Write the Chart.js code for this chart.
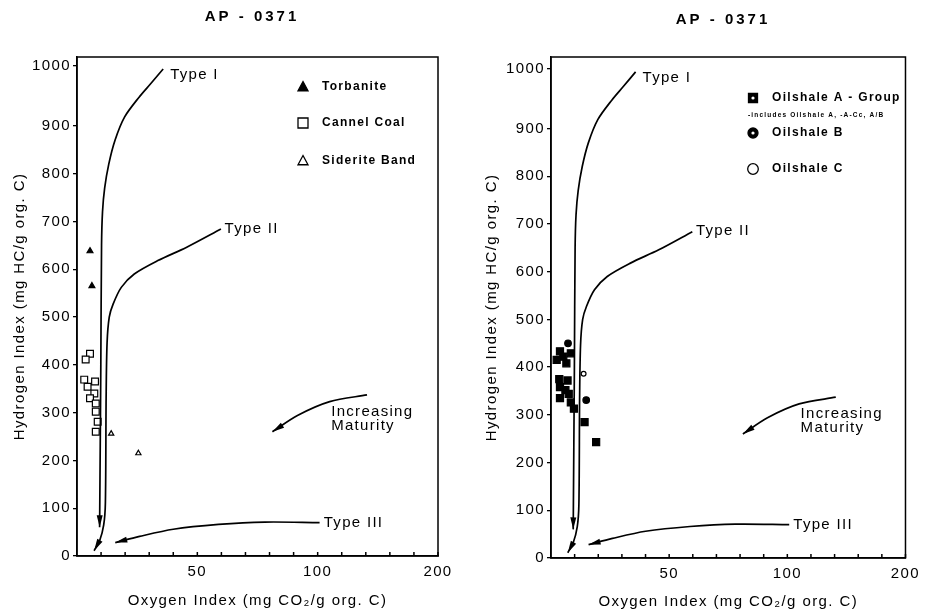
<!DOCTYPE html>
<html>
<head>
<meta charset="utf-8">
<title>AP - 0371</title>
<script src="https://cdn.jsdelivr.net/npm/chart.js@4.4.1/dist/chart.umd.min.js"></script>
<style>
  html, body { margin: 0; padding: 0; background: #fff; }
  .wrap { display: flex; width: 925px; height: 614px; }
  .panel { position: relative; height: 614px; }
  #left { width: 462px; }
  #right { width: 463px; }
</style>
</head>
<body>
<div class="wrap">
  <div class="panel" id="left"><canvas id="chartLeft"></canvas></div>
  <div class="panel" id="right"><canvas id="chartRight"></canvas></div>
</div>
<script>
const title = 'AP - 0371';
const xTickLabels = [50, 100, 200];
const xMinorTicks = [10, 20, 30, 40, 50, 60, 70, 80, 90, 100, 120, 140, 160, 180, 200];
const yTickLabels = [0, 100, 200, 300, 400, 500, 600, 700, 800, 900, 1000];

// left panel  [oxygen index, hydrogen index]
const torbanite = [[5.4, 638], [6.2, 565]];
const cannelCoal = [[5.4, 423], [3.6, 411], [3.0, 369], [7.5, 365], [4.4, 354], [7.2, 340],
  [5.4, 330], [7.8, 319], [7.8, 302], [8.6, 281], [7.8, 260]];
const sideriteBand = [[14.2, 256], [25.5, 215]];

// right panel
const oilshaleA = [[3.8, 433], [8.4, 429], [2.4, 415], [5.2, 422], [6.5, 408], [3.5, 375],
  [7.0, 372], [3.8, 358], [6.1, 352], [7.5, 344], [3.8, 335], [8.4, 326], [9.7, 313],
  [14.2, 285], [19.1, 243]];
const oilshaleB = [[7.2, 450], [14.9, 331]];
const oilshaleC = [[13.8, 386]];

// kerogen evolution paths, same on both diagrams
const typeI = [[35.8, 995], [30.5, 970], [25.8, 948], [19.8, 915], [15.8, 870], [13.2, 820],
  [11.5, 770], [10.6, 720], [10.2, 650], [9.9, 400], [9.4, 60]];
const typeII = [[59.8, 684], [45.6, 646], [33.6, 618], [23.8, 590], [18.4, 562], [15, 527],
  [13.4, 500], [12.5, 446], [12.1, 330], [11.8, 112], [11.1, 65], [9.4, 32], [7.1, 11]];
const typeIII = [[101.6, 70], [78, 71], [58.8, 66], [40, 56], [26, 41], [15.9, 28]];
const maturity = [[141, 337], [110, 323], [91.6, 294], [81.2, 260]];
const curveLabels = [['Type I', 38.3, 985], ['Type II', 60.9, 685], ['Type III', 104.2, 70],
  ['Increasing', 110.4, 302], ['Maturity', 110.4, 273]];

// axis breaks: x is squeezed above 100, y stretched above 900
const xPos = v => v <= 100 ? v : 100 + (v - 100) / 2;
const xVal = p => p <= 100 ? p : 100 + (p - 100) * 2;
const yPos = v => v <= 900 ? v : 900 + (v - 900) * 1.25;
const toPts = arr => arr.map(([x, y]) => ({ x: xPos(x), y: yPos(y) }));

Chart.defaults.font.family = "'Liberation Sans', Arial, sans-serif";
Chart.defaults.color = '#000';

const INK = '#000';

function marker(ctx, style, x, y, r, filled, hole) {
  ctx.beginPath();
  if (style === 'rect') ctx.rect(x - r, y - r, 2 * r, 2 * r);
  else if (style === 'circle') ctx.arc(x, y, r, 0, Math.PI * 2);
  else {
    ctx.moveTo(x, y - r * 1.1);
    ctx.lineTo(x + r, y + r * 0.75);
    ctx.lineTo(x - r, y + r * 0.75);
    ctx.closePath();
  }
  ctx.fillStyle = filled ? INK : '#fff';
  ctx.fill();
  ctx.lineWidth = 1.3;
  ctx.strokeStyle = INK;
  ctx.stroke();
  if (hole) {
    ctx.beginPath();
    ctx.arc(x, y, hole, 0, Math.PI * 2);
    ctx.fillStyle = '#fff';
    ctx.fill();
  }
}

const decorations = {
  id: 'decorations',
  beforeDraw(chart) {
    chart.ctx.letterSpacing = '1.4px';
  },
  afterDatasetsDraw(chart, args, opts) {
    const { ctx, chartArea: a, scales: { x, y } } = chart;
    ctx.save();
    ctx.strokeStyle = INK;
    ctx.lineWidth = 1.5;
    ctx.strokeRect(a.left, a.top, a.right - a.left, a.bottom - a.top);

    // inward ticks on the oxygen axis
    ctx.beginPath();
    xMinorTicks.forEach(v => {
      const px = x.getPixelForValue(xPos(v));
      ctx.moveTo(px, a.bottom);
      ctx.lineTo(px, a.bottom - 4);
    });
    ctx.stroke();

    // arrow heads
    chart.data.datasets.forEach((ds, i) => {
      if (!ds.arrow) return;
      const pts = chart.getDatasetMeta(i).data;
      const p = pts[pts.length - 1], q = pts[pts.length - 2];
      const len = Math.hypot(p.x - q.x, p.y - q.y);
      const ux = (p.x - q.x) / len, uy = (p.y - q.y) / len;
      const L = 12, W = 3;
      ctx.beginPath();
      ctx.moveTo(p.x, p.y);
      ctx.lineTo(p.x - ux * L - uy * W, p.y - uy * L + ux * W);
      ctx.lineTo(p.x - ux * L + uy * W, p.y - uy * L - ux * W);
      ctx.closePath();
      ctx.fillStyle = INK;
      ctx.fill();
    });

    ctx.fillStyle = INK;
    ctx.textBaseline = 'middle';
    ctx.textAlign = 'left';
    ctx.font = "15px 'Liberation Sans', Arial, sans-serif";
    ctx.letterSpacing = '1.3px';
    curveLabels.forEach(([t, vx, vy]) => {
      ctx.fillText(t, x.getPixelForValue(xPos(vx)) + 1, y.getPixelForValue(yPos(vy)));
    });

    // heading
    ctx.font = "bold 15px 'Liberation Sans', Arial, sans-serif";
    ctx.letterSpacing = '3px';
    ctx.textAlign = 'center';
    ctx.fillText(title, opts.titleX, opts.titleY);

    // key
    ctx.textAlign = 'left';
    opts.keys.forEach(k => {
      const mx = a.left + opts.keyX, my = a.top + k.dy;
      marker(ctx, k.style, mx, my, k.r, k.filled, k.hole);
      ctx.fillStyle = INK;
      ctx.font = "bold 12px 'Liberation Sans', Arial, sans-serif";
      ctx.letterSpacing = '1.3px';
      ctx.fillText(k.label, mx + 19, my);
      if (k.note) {
        ctx.font = "bold 6.5px 'Liberation Sans', Arial, sans-serif";
        ctx.letterSpacing = '1.2px';
        ctx.fillText(k.note, mx - 5, my + 17);
      }
    });
    ctx.restore();
  }
};

function curveSet(data, arrow) {
  return {
    data: toPts(data), showLine: true, pointRadius: 0, borderColor: INK,
    borderWidth: 1.7, tension: 0.3, arrow: arrow
  };
}

function pointSet(data, style, r, filled) {
  return {
    data: toPts(data), showLine: false, pointStyle: style, pointRadius: r,
    backgroundColor: filled ? INK : '#fff', borderColor: INK, borderWidth: 1.2
  };
}

function makeChart(id, sets, o) {
  return new Chart(document.getElementById(id), {
    type: 'scatter',
    data: {
      datasets: [
        curveSet(typeI, true), curveSet(typeII, true), curveSet(typeIII, true),
        curveSet(maturity, true), ...sets
      ]
    },
    options: {
      responsive: true,
      maintainAspectRatio: false,
      animation: false,
      layout: { padding: { left: 0, right: o.padRight, top: 57, bottom: 0 } },
      plugins: {
        legend: { display: false },
        tooltip: { enabled: false },
        decorations: o
      },
      scales: {
        x: {
          type: 'linear', min: 0, max: 150,
          afterBuildTicks: s => { s.ticks = xTickLabels.map(v => ({ value: xPos(v) })); },
          afterFit: s => { s.height = o.xHeight; },
          ticks: { callback: v => xVal(v), font: { size: 15 }, padding: 7, maxRotation: 0 },
          grid: { display: false, drawTicks: false },
          border: { color: INK, width: 1.5 },
          title: {
            display: true, text: 'Oxygen Index (mg CO\u2082/g org. C)',
            font: { size: 15 }, padding: { top: 0, bottom: o.xTitlePad }
          }
        },
        y: {
          type: 'linear', min: 0, max: o.yMax,
          afterBuildTicks: s => { s.ticks = yTickLabels.map(v => ({ value: yPos(v) })); },
          afterFit: s => { s.width = o.yWidth; },
          ticks: { callback: (v, i) => yTickLabels[i], font: { size: 15 }, padding: 2 },
          grid: { drawOnChartArea: false, tickLength: 4, color: INK, lineWidth: 1.3 },
          border: { color: INK, width: 1.5 },
          title: {
            display: true, text: 'Hydrogen Index (mg HC/g org. C)',
            font: { size: 15 }, padding: { top: o.yTitlePad, bottom: 0 }
          }
        }
      }
    },
    plugins: [decorations]
  });
}

makeChart('chartLeft', [
  pointSet(torbanite, 'triangle', 3.4, true),
  pointSet(cannelCoal, 'rect', 4.8, false),
  pointSet(sideriteBand, 'triangle', 3, false)
], {
  padRight: 24, yWidth: 77, xHeight: 58, yMax: 1044, xTitlePad: 4, yTitlePad: 11,
  titleX: 252, titleY: 17, keyX: 226,
  keys: [
    { style: 'triangle', r: 5, filled: true, dy: 30, label: 'Torbanite' },
    { style: 'rect', r: 5, filled: false, dy: 66, label: 'Cannel Coal' },
    { style: 'triangle', r: 5, filled: false, dy: 104, label: 'Siderite Band' }
  ]
});

makeChart('chartRight', [
  pointSet(oilshaleA, 'rect', 5, true),
  pointSet(oilshaleB, 'circle', 3.3, true),
  pointSet(oilshaleC, 'circle', 2.4, false)
], {
  padRight: 15, yWidth: 89, xHeight: 56, yMax: 1050, xTitlePad: 3, yTitlePad: 21,
  titleX: 261, titleY: 20, keyX: 202,
  keys: [
    { style: 'rect', r: 4.5, filled: true, hole: 1.6, dy: 41, label: 'Oilshale A - Group',
      note: '-includes Oilshale A, -A-Cc, A/B' },
    { style: 'circle', r: 5, filled: true, hole: 1.6, dy: 76, label: 'Oilshale B' },
    { style: 'circle', r: 5.3, filled: false, dy: 112, label: 'Oilshale C' }
  ]
});
</script>
</body>
</html>
